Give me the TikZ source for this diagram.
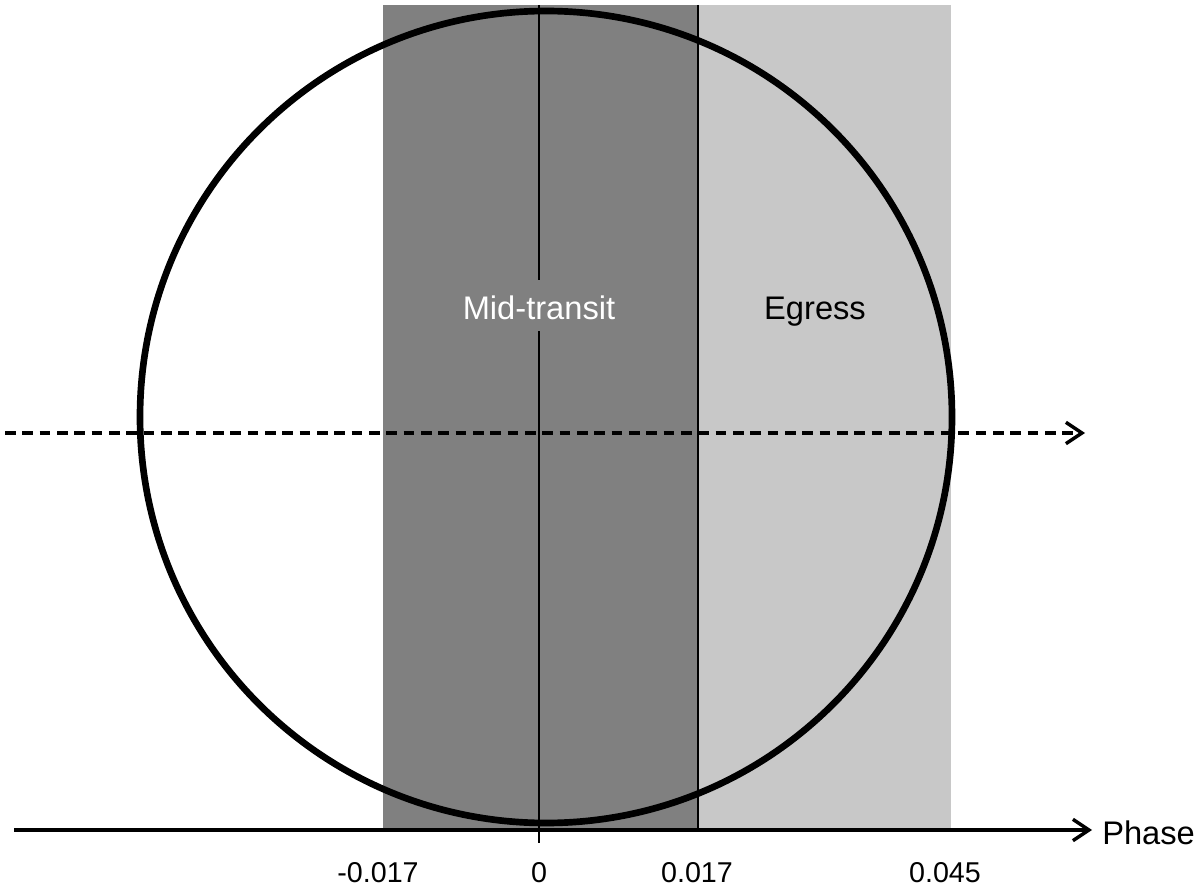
\documentclass[tikz,border=0pt]{standalone}
\usepackage{fontspec}
\setmainfont{Liberation Sans}
\usetikzlibrary{arrows.meta}
\definecolor{darkband}{RGB}{128,128,128}
\definecolor{lightband}{RGB}{200,200,200}
\tikzset{
  bandlabel/.style={font=\fontsize{24.5pt}{28pt}\selectfont, inner sep=0pt, anchor=base},
  ticklabel/.style={font=\fontsize{21.5pt}{25pt}\selectfont, inner sep=0pt, anchor=base},
  thinline/.style={line width=1.7pt},
  arrowtip/.style={-{Straight Barb[length=12pt,width=16pt,line width=2.6pt]}},
  axisline/.style={line width=2.6pt, arrowtip},
  pathline/.style={line width=2.6pt, dash pattern=on 8pt off 5pt, arrowtip},
  star/.style={line width=5pt}
}
\begin{document}
\begin{tikzpicture}[x=0.75pt,y=-0.75pt]
\useasboundingbox (0,0) rectangle (1200,888);
% bands
\fill[darkband] (383,5) rectangle (698,830);
\fill[lightband] (698,5) rectangle (951,830);
% coordinates
\coordinate (midtop) at (539,5);
\coordinate (midbot) at (539,843);
\coordinate (egtop) at (698,5);
\coordinate (egbot) at (698,830);
\coordinate (dashL) at (5,433);
\coordinate (dashR) at (1085,433);
\coordinate (axL) at (14,830);
\coordinate (axR) at (1092,830);
% labels
\node[bandlabel, text=white] (mid) at (539,319) {Mid-transit};
\node[bandlabel] (egress) at (815,319) {Egress};
\coordinate (gapTop) at (539,280);
\coordinate (gapBot) at (539,331);
% vertical lines
\draw[thinline] (midtop) -- (gapTop);
\draw[thinline] (gapBot) -- (midbot);
\draw[thinline] (egtop) -- (egbot);
% dashed path
\draw[pathline] (dashL) -- (dashR);
% star disc
\node[circle, draw, star, minimum size=812*0.75pt, inner sep=0pt] (disc) at (546,417) {};
% axis
\draw[axisline] (axL) -- (axR);
\node[bandlabel, anchor=base west] (phase) at (1102,844) {Phase};
% tick labels
\node[ticklabel] (t1) at (378,882) {-0.017};
\node[ticklabel] (t2) at (539,882) {0};
\node[ticklabel] (t3) at (697,882) {0.017};
\node[ticklabel] (t4) at (945,882) {0.045};
\end{tikzpicture}
\end{document}
